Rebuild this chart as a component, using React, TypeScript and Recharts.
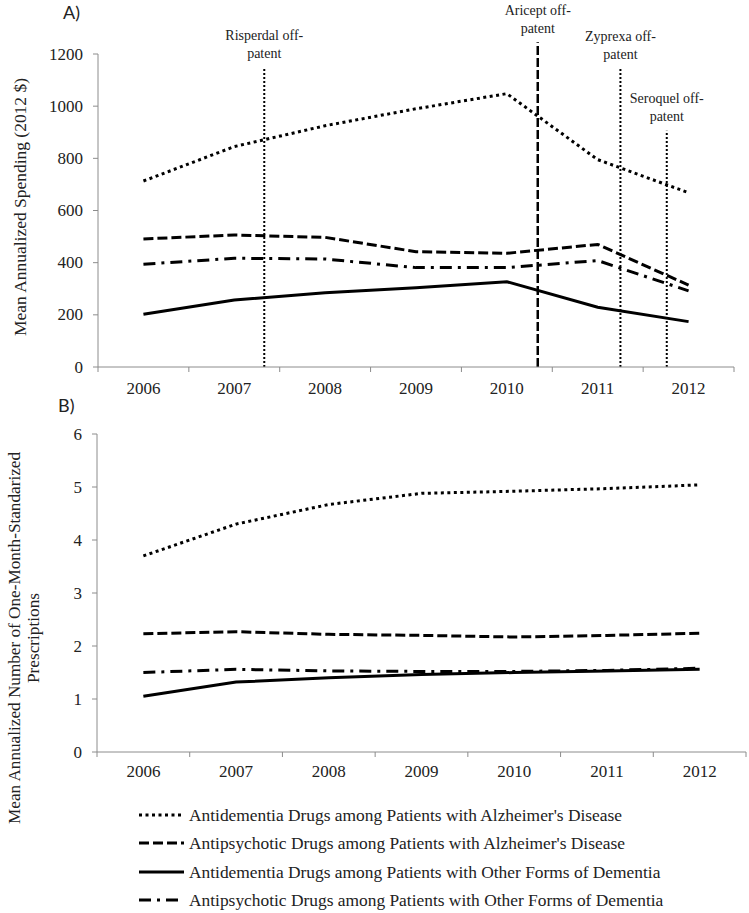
import React from "react";
import { LineChart, Line, XAxis, YAxis, ReferenceLine } from "recharts";

// years on the category axis, and the boundaries where Excel puts its tick marks
const years = [2006, 2007, 2008, 2009, 2010, 2011, 2012];
const yearEdges = [2005.5, 2006.5, 2007.5, 2008.5, 2009.5, 2010.5, 2011.5, 2012.5];

const seriesNames = [
  "Antidementia Drugs among Patients with Alzheimer's Disease",
  "Antipsychotic Drugs among Patients with Alzheimer's Disease",
  "Antidementia Drugs among Patients with Other Forms of Dementia",
  "Antipsychotic Drugs among Patients with Other Forms of Dementia",
];

// panel A: mean annualized spending (2012 $)
const spendDementiaAD = [713, 845, 925, 990, 1048, 795, 668];
const spendPsychoticAD = [491, 506, 497, 442, 436, 470, 314];
const spendDementiaOther = [202, 257, 285, 304, 327, 229, 174];
const spendPsychoticOther = [394, 417, 414, 381, 381, 408, 292];
const spendTicks = [0, 200, 400, 600, 800, 1000, 1200];

// panel B: mean annualized number of one-month-standardized prescriptions
const rxDementiaAD = [3.7, 4.3, 4.67, 4.88, 4.92, 4.97, 5.04];
const rxPsychoticAD = [2.23, 2.27, 2.22, 2.2, 2.17, 2.2, 2.24];
const rxDementiaOther = [1.05, 1.32, 1.4, 1.46, 1.5, 1.53, 1.56];
const rxPsychoticOther = [1.5, 1.56, 1.53, 1.52, 1.52, 1.54, 1.58];
const rxTicks = [0, 1, 2, 3, 4, 5, 6];

// off-patent events (position in years, top of the marker line in $)
const offPatentDrugs = ["Risperdal", "Aricept", "Zyprexa", "Seroquel"];
const offPatentAt = [2007.33, 2010.34, 2011.25, 2011.76];
const offPatentTop = [1150, 1245, 1146, 906];

const spendData = years.map((year, i) => ({
  year,
  s0: spendDementiaAD[i],
  s1: spendPsychoticAD[i],
  s2: spendDementiaOther[i],
  s3: spendPsychoticOther[i],
}));

const rxData = years.map((year, i) => ({
  year,
  s0: rxDementiaAD[i],
  s1: rxPsychoticAD[i],
  s2: rxDementiaOther[i],
  s3: rxPsychoticOther[i],
}));

const SERIF = "'Liberation Serif', 'Times New Roman', serif";
const AXIS = "#8c8c8c";
const INK = "#222";
const lineStyles = [
  { width: 3, dash: "3 3.5" },
  { width: 3, dash: "10 4" },
  { width: 3, dash: undefined },
  { width: 3, dash: "12 6 3 6" },
];
const markerStyles = [
  { width: 2, dash: "2 2" },
  { width: 2.5, dash: "9 3" },
  { width: 2, dash: "2 2" },
  { width: 2, dash: "2 2" },
];

const serifStyle = (size) => ({ fontFamily: SERIF, fontSize: size, fill: INK });

const makeYearTick = (half, dy) => (props) => {
  const { x, y, index } = props;
  if (index >= years.length) return <g />;
  return (
    <text x={x + half} y={y + dy} textAnchor="middle" dominantBaseline="central" style={serifStyle(17)}>
      {years[index]}
    </text>
  );
};

const yTick = (props) => {
  const { x, y, payload } = props;
  return (
    <text x={x} y={y} textAnchor="end" dominantBaseline="central" style={serifStyle(17)}>
      {payload.value}
    </text>
  );
};

const OffPatentLabel = ({ viewBox, name }) => {
  const x = viewBox.x;
  const top = viewBox.y;
  return (
    <g>
      <text x={x} y={top - 32} textAnchor="middle" dominantBaseline="central" style={serifStyle(14)}>
        {name + " off-"}
      </text>
      <text x={x} y={top - 14} textAnchor="middle" dominantBaseline="central" style={serifStyle(14)}>
        patent
      </text>
    </g>
  );
};

const seriesLines = () =>
  seriesNames.map((name, i) => (
    <Line
      key={name}
      name={name}
      dataKey={"s" + i}
      type="linear"
      stroke="#000"
      strokeWidth={lineStyles[i].width}
      strokeDasharray={lineStyles[i].dash}
      dot={false}
      activeDot={false}
      isAnimationActive={false}
    />
  ));

// rotated axis title; the original font is narrow, so squeeze to the measured length
const RotText = ({ x, y, len, children }) => (
  <text
    x={x}
    y={y}
    transform={`rotate(-90, ${x}, ${y})`}
    textAnchor="middle"
    dominantBaseline="central"
    style={serifStyle(17)}
    textLength={len}
    lengthAdjust="spacingAndGlyphs"
  >
    {children}
  </text>
);

const Titles = () => (
  <svg width={60} height={913} style={{ position: "absolute", left: 0, top: 0, overflow: "visible" }}>
    <RotText x={20} y={207} len={258}>Mean Annualized Spending (2012 $)</RotText>
    <RotText x={14} y={638} len={372}>Mean Annualized Number of One-Month-Standarized</RotText>
    <RotText x={33} y={638} len={90}>Prescriptions</RotText>
  </svg>
);

const Legend4 = () => (
  <svg width={749} height={121} style={{ position: "absolute", left: 0, top: 792 }}>
    {seriesNames.map((name, i) => {
      const y = [23, 51, 80, 108][i];
      return (
        <g key={name}>
          <line
            x1={139}
            x2={184}
            y1={y}
            y2={y}
            stroke="#000"
            strokeWidth={lineStyles[i].width}
            strokeDasharray={lineStyles[i].dash}
          />
          <text x={189} y={y} dominantBaseline="central" style={serifStyle(17.4)}>
            {name}
          </text>
        </g>
      );
    })}
  </svg>
);

export default function App() {
  return (
    <div style={{ position: "absolute", left: 0, top: 0, width: 749, height: 913, background: "#fff" }}>
      <div style={{ position: "absolute", left: 0, top: 0 }}>
        <LineChart width={749} height={420} data={spendData} margin={{ top: 54, right: 15, left: 0, bottom: 13 }}>
          <XAxis
            dataKey="year"
            type="number"
            domain={[2005.5, 2012.5]}
            ticks={yearEdges}
            interval={0}
            height={40}
            stroke={AXIS}
            tickSize={5}
            tick={makeYearTick(45.4, 14)}
          />
          <YAxis
            domain={[0, 1200]}
            ticks={spendTicks}
            interval={0}
            width={98}
            stroke={AXIS}
            tickSize={5}
            tickMargin={10}
            tick={yTick}
          />
          {seriesLines()}
          {offPatentDrugs.map((name, i) => (
            <ReferenceLine
              key={name}
              segment={[
                { x: offPatentAt[i], y: 0 },
                { x: offPatentAt[i], y: offPatentTop[i] },
              ]}
              ifOverflow="visible"
              stroke="#000"
              strokeWidth={markerStyles[i].width}
              strokeDasharray={markerStyles[i].dash}
              label={(p) => <OffPatentLabel {...p} name={name} />}
            />
          ))}
        </LineChart>
      </div>
      <div style={{ position: "absolute", left: 0, top: 420 }}>
        <LineChart width={749} height={372} data={rxData} margin={{ top: 14, right: 3, left: 0, bottom: 0 }}>
          <XAxis
            dataKey="year"
            type="number"
            domain={[2005.5, 2012.5]}
            ticks={yearEdges}
            interval={0}
            height={40}
            stroke={AXIS}
            tickSize={5}
            tick={makeYearTick(46.4, 12)}
          />
          <YAxis
            domain={[0, 6]}
            ticks={rxTicks}
            interval={0}
            width={97}
            stroke={AXIS}
            tickSize={5}
            tickMargin={10}
            tick={yTick}
          />
          {seriesLines()}
        </LineChart>
      </div>
      <Titles />
      <div style={{ position: "absolute", left: 63, top: 1, fontFamily: "Lato, sans-serif", fontSize: 18, color: INK }}>A)</div>
      <div style={{ position: "absolute", left: 58, top: 394, fontFamily: "Lato, sans-serif", fontSize: 18, color: INK }}>B)</div>
      <Legend4 />
    </div>
  );
}
